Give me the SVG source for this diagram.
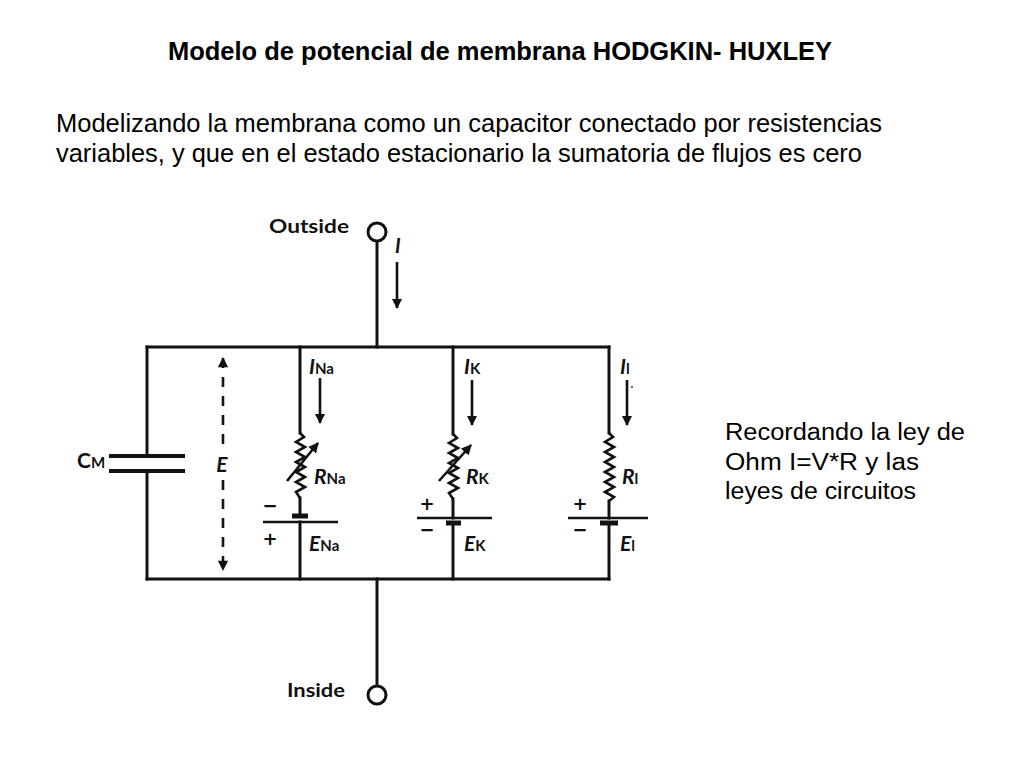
<svg xmlns="http://www.w3.org/2000/svg" width="1024" height="768" viewBox="0 0 1024 768">
<defs>
<style>
.w{stroke:#111;stroke-width:3;fill:none;stroke-linecap:square}
.z{stroke:#111;stroke-width:2.6;fill:none;stroke-linejoin:miter}
.pl{stroke:#111;stroke-width:2.6}
.ps{stroke:#111;stroke-width:5}
.a{stroke:#111;stroke-width:2.6;fill:none}
.t{font-family:"Liberation Sans",Arial,sans-serif;fill:#000}
.c{font-family:Lato,"Open Sans",sans-serif;fill:#111;font-weight:bold}
.i{font-style:italic}
.s{font-size:15px;font-style:normal}
.sg{font-family:"DejaVu Sans",sans-serif;fill:#111;font-weight:bold;font-size:18px;text-anchor:middle}
.term{stroke:#111;stroke-width:3;fill:#fff}
</style>
<marker id="ah" viewBox="0 0 10 10" refX="9" refY="5" markerWidth="4" markerHeight="4.5" orient="auto" markerUnits="strokeWidth">
<path d="M0,0 L10,5 L0,10 z" fill="#111"/>
</marker>
<marker id="ah2" viewBox="0 0 10 10" refX="9" refY="5" markerWidth="4.5" markerHeight="4" orient="auto-start-reverse" markerUnits="strokeWidth">
<path d="M0,0 L10,5 L0,10 z" fill="#111"/>
</marker>
</defs>
<rect width="1024" height="768" fill="#fff"/>

<g id="title">
<text class="t" x="168" y="60" font-size="26" font-weight="bold" textLength="664" lengthAdjust="spacingAndGlyphs">Modelo de potencial de membrana HODGKIN- HUXLEY</text>
</g>
<g id="intro">
<text class="t" x="56" y="132" font-size="25" textLength="826" lengthAdjust="spacingAndGlyphs">Modelizando la membrana como un capacitor conectado por resistencias</text>
<text class="t" x="56" y="162" font-size="25" textLength="806" lengthAdjust="spacingAndGlyphs">variables, y que en el estado estacionario la sumatoria de flujos es cero</text>
</g>
<g id="note">
<text class="t" x="725" y="440" font-size="23" textLength="240" lengthAdjust="spacingAndGlyphs">Recordando la ley de</text>
<text class="t" x="725" y="470" font-size="23" textLength="194" lengthAdjust="spacingAndGlyphs">Ohm I=V*R y las</text>
<text class="t" x="725" y="499" font-size="23" textLength="191" lengthAdjust="spacingAndGlyphs">leyes de circuitos</text>
</g>

<g id="connectors">
<line class="w" x1="377" y1="241" x2="377" y2="347"/>
<line class="w" x1="147" y1="347" x2="609" y2="347"/>
<line class="w" x1="147" y1="579" x2="609" y2="579"/>
<line class="w" x1="377" y1="579" x2="377" y2="686"/>
<line class="w" x1="147" y1="347" x2="147" y2="456"/>
<line class="w" x1="147" y1="471" x2="147" y2="579"/>
<line class="w" x1="300" y1="347" x2="300" y2="433"/>
<line class="w" x1="300" y1="498" x2="300" y2="516"/>
<line class="w" x1="300" y1="522" x2="300" y2="579"/>
<line class="w" x1="453" y1="347" x2="453" y2="434"/>
<line class="w" x1="453" y1="499" x2="453" y2="518"/>
<line class="w" x1="453" y1="523" x2="453" y2="579"/>
<line class="w" x1="609" y1="347" x2="609" y2="433"/>
<line class="w" x1="609" y1="501" x2="609" y2="518"/>
<line class="w" x1="609" y1="523" x2="609" y2="579"/>
</g>

<g id="outside">
<circle class="term" cx="377" cy="232" r="9"/>
<text class="c" x="269" y="233" font-size="18" textLength="80" lengthAdjust="spacingAndGlyphs">Outside</text>
<line class="a" x1="397" y1="262" x2="397" y2="308" marker-end="url(#ah)"/>
<text class="c i" x="395" y="253" font-size="20">I</text>
</g>

<g id="inside">
<circle class="term" cx="377" cy="695" r="9"/>
<text class="c" x="287" y="697" font-size="18" textLength="58" lengthAdjust="spacingAndGlyphs">Inside</text>
</g>

<g id="capacitor">
<line class="ps" x1="109" y1="456" x2="185" y2="456" style="stroke-width:4"/>
<line class="ps" x1="109" y1="471" x2="185" y2="471" style="stroke-width:4"/>
<text class="c" x="77" y="468" font-size="21">C<tspan class="s i">M</tspan></text>
</g>

<g id="voltage">
<line class="a" x1="223" y1="358" x2="223" y2="450" stroke-dasharray="10,9" marker-start="url(#ah2)"/>
<line class="a" x1="223" y1="480" x2="223" y2="570" stroke-dasharray="10,9" marker-end="url(#ah2)"/>
<text class="c i" x="222" y="472" font-size="21" text-anchor="middle">E</text>
</g>

<g id="branch-na">
<polyline class="z" points="300,433 304,437 296,442 305,447 296,452 305,457 296,462 305,467 296,472 305,477 296,482 305,487 296,492 300,498"/>
<line class="a" x1="287" y1="481" x2="318" y2="443" marker-end="url(#ah)"/>
<line class="ps" x1="292" y1="516" x2="308" y2="516"/>
<line class="pl" x1="263" y1="522" x2="338" y2="522"/>
<line class="a" x1="320" y1="378" x2="320" y2="423" marker-end="url(#ah)"/>
<text class="c i" x="309" y="374" font-size="21">I<tspan class="s">Na</tspan></text>
<text class="c i" x="314" y="484" font-size="21">R<tspan class="s">Na</tspan></text>
<text class="c i" x="309" y="551" font-size="21">E<tspan class="s">Na</tspan></text>
<text class="sg" x="270" y="511.5">−</text>
<text class="sg" x="270" y="544.5">+</text>
</g>

<g id="branch-k">
<polyline class="z" points="453,434 457,438 449,443 458,448 449,453 458,458 449,463 458,468 449,473 458,478 449,483 458,488 449,493 453,499"/>
<line class="a" x1="439" y1="481" x2="471" y2="445" marker-end="url(#ah)"/>
<line class="pl" x1="417" y1="518" x2="492" y2="518"/>
<line class="ps" x1="446" y1="523" x2="461" y2="523"/>
<line class="a" x1="472" y1="380" x2="472" y2="425" marker-end="url(#ah)"/>
<text class="c i" x="464" y="374" font-size="21">I<tspan class="s">K</tspan></text>
<text class="c i" x="466" y="484" font-size="21">R<tspan class="s">K</tspan></text>
<text class="c i" x="464" y="551" font-size="21">E<tspan class="s">K</tspan></text>
<text class="sg" x="427" y="509.5">+</text>
<text class="sg" x="427" y="535.5">−</text>
</g>

<g id="branch-l">
<polyline class="z" points="609,433 613,437 605,442 614,447 605,452 614,457 605,462 614,467 605,472 614,477 605,482 614,487 605,492 614,497 609,501"/>
<line class="pl" x1="568" y1="518" x2="648" y2="518"/>
<line class="ps" x1="600" y1="523" x2="618" y2="523"/>
<line class="a" x1="627" y1="380" x2="627" y2="425" marker-end="url(#ah)"/>
<circle cx="632" cy="387" r="1" fill="#333"/>
<text class="c i" x="620" y="374" font-size="21">I<tspan class="s i">l</tspan></text>
<text class="c i" x="622" y="484" font-size="21">R<tspan class="s i">l</tspan></text>
<text class="c i" x="620" y="551" font-size="21">E<tspan class="s i">l</tspan></text>
<text class="sg" x="580" y="509.5">+</text>
<text class="sg" x="580" y="535.5">−</text>
</g>
</svg>
